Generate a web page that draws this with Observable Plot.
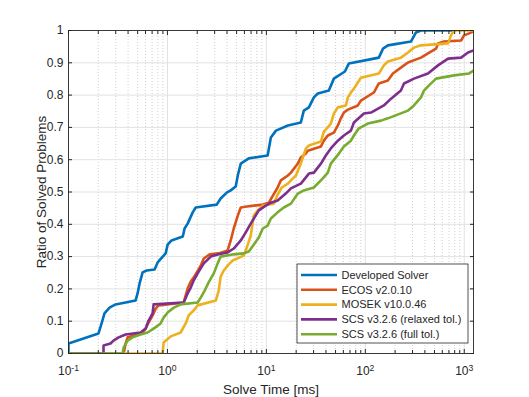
<!DOCTYPE html>
<html><head><meta charset="utf-8">
<script src="https://cdn.jsdelivr.net/npm/d3@7"></script>
<script src="https://cdn.jsdelivr.net/npm/@observablehq/plot@0.6"></script>
<style>body{margin:0;background:#fff;}</style>
</head><body><div id="chart"></div>
<script>
const seriesNames = ["Developed Solver","ECOS v2.0.10","MOSEK v10.0.46","SCS v3.2.6 (relaxed tol.)","SCS v3.2.6 (full tol.)"];
const seriesColors = ["#0072BD","#D95319","#EDB120","#7E2F8E","#77AC30"];
// [solve time in ms, ratio of solved problems]
const developed = [[0.1,0],[0.1,0.031],[0.201,0.062],[0.216,0.093],[0.231,0.124],[0.26,0.142],[0.299,0.152],[0.476,0.164],[0.499,0.186],[0.523,0.217],[0.561,0.251],[0.616,0.257],[0.742,0.26],[0.796,0.282],[0.959,0.31],[1.005,0.337],[1.1,0.35],[1.43,0.362],[1.49,0.387],[1.6,0.402],[1.8,0.437],[1.93,0.452],[3.15,0.461],[3.45,0.48],[3.97,0.498],[4.36,0.505],[4.9,0.517],[5.14,0.551],[5.51,0.588],[6.64,0.604],[10.3,0.613],[11.1,0.669],[12.5,0.69],[16.5,0.706],[22.3,0.715],[23.9,0.752],[26.9,0.762],[30.2,0.793],[33.1,0.805],[42.8,0.814],[48.1,0.851],[62.2,0.873],[68.2,0.898],[122,0.913],[137,0.916],[151,0.944],[169,0.954],[290,0.966],[325,0.994],[365,1],[789,1]];
const ecos = [[0.1,0],[0.361,0],[0.378,0.031],[0.396,0.05],[0.548,0.062],[0.602,0.077],[0.645,0.096],[0.708,0.118],[0.76,0.139],[0.815,0.149],[1.46,0.158],[1.53,0.18],[1.6,0.201],[1.72,0.223],[1.84,0.235],[1.98,0.251],[2.17,0.272],[2.33,0.294],[2.67,0.307],[3.3,0.31],[4.06,0.319],[4.36,0.35],[4.68,0.387],[5.14,0.427],[5.51,0.452],[6.34,0.455],[9.2,0.461],[10.6,0.467],[13,0.514],[14,0.536],[16.5,0.551],[17.7,0.56],[20.8,0.588],[22.3,0.607],[25.1,0.619],[26.2,0.628],[35.6,0.641],[38.1,0.659],[41.8,0.675],[48.1,0.684],[52.8,0.706],[56.6,0.728],[60.7,0.746],[66.7,0.755],[84.1,0.768],[90.2,0.783],[122,0.808],[137,0.836],[169,0.845],[190,0.867],[246,0.892],[270,0.901],[365,0.916],[430,0.929],[519,0.944],[543,0.96],[625,0.966],[929,0.969],[995,0.985],[1119,0.991],[1240,0.997]];
const mosek = [[0.1,0],[0.893,0],[0.915,0.034],[1.08,0.053],[1.36,0.065],[1.53,0.093],[1.64,0.118],[1.84,0.133],[2.02,0.149],[3.08,0.164],[3.3,0.195],[3.45,0.238],[3.71,0.257],[4.16,0.276],[4.57,0.288],[5.9,0.303],[6.34,0.328],[6.95,0.365],[7.45,0.427],[8.18,0.443],[9.2,0.458],[11.9,0.464],[13,0.492],[14.3,0.514],[16.5,0.526],[17.7,0.536],[19.9,0.551],[22.3,0.588],[25.1,0.635],[26.9,0.644],[35.6,0.656],[38.1,0.687],[41.8,0.7],[44.8,0.712],[48.1,0.743],[52.8,0.762],[63.6,0.768],[66.7,0.793],[71.5,0.808],[76.7,0.82],[84.1,0.839],[90.2,0.854],[137,0.867],[154,0.892],[169,0.904],[229,0.916],[270,0.932],[310,0.947],[365,0.954],[686,0.96],[735,0.985],[789,1],[1240,1]];
const scsRelaxed = [[0.1,0],[0.226,0],[0.226,0.025],[0.266,0.031],[0.285,0.04],[0.321,0.05],[0.378,0.059],[0.535,0.065],[0.602,0.077],[0.645,0.102],[0.708,0.124],[0.725,0.152],[1.46,0.158],[1.6,0.186],[1.72,0.204],[1.84,0.226],[2.02,0.248],[2.33,0.279],[2.74,0.3],[3.3,0.307],[4.06,0.313],[4.68,0.325],[5.51,0.35],[6.19,0.375],[6.95,0.402],[8.38,0.443],[9.86,0.458],[11.1,0.467],[13,0.474],[15.7,0.495],[17.7,0.511],[22.3,0.526],[26.9,0.557],[30.2,0.56],[35.6,0.588],[39.9,0.613],[44.8,0.635],[52.8,0.659],[60.7,0.675],[71.5,0.69],[76.7,0.715],[96.8,0.743],[114,0.746],[154,0.768],[182,0.789],[229,0.814],[246,0.836],[310,0.851],[430,0.867],[543,0.892],[686,0.913],[929,0.916],[1092,0.932],[1240,0.938]];
const scsFull = [[0.1,0],[0.352,0],[0.361,0.019],[0.396,0.04],[0.444,0.05],[0.535,0.059],[0.631,0.065],[0.725,0.077],[0.853,0.093],[0.915,0.111],[1.005,0.127],[1.16,0.142],[1.36,0.152],[2.02,0.158],[2.17,0.173],[2.38,0.195],[2.61,0.22],[2.94,0.248],[3.22,0.279],[3.45,0.3],[4.68,0.307],[5.9,0.31],[6.64,0.316],[7.45,0.337],[8.38,0.359],[9.2,0.387],[10.3,0.396],[11.1,0.418],[13,0.437],[15,0.452],[17.7,0.464],[20.8,0.495],[23.9,0.505],[30.2,0.514],[37.2,0.542],[41.8,0.56],[44.8,0.588],[54.1,0.619],[60.7,0.641],[71.5,0.659],[76.7,0.675],[86.1,0.697],[106,0.712],[144,0.721],[169,0.728],[270,0.752],[310,0.768],[365,0.793],[392,0.814],[440,0.83],[519,0.851],[789,0.861],[1119,0.867],[1240,0.876]];
const xDomain = [0.1, 1240];
const xTicks = [0.1, 1, 10, 100, 1000];
const xTickLabels = ["10^-1","10^0","10^1","10^2","10^3"];
const yTicks = [0,0.1,0.2,0.3,0.4,0.5,0.6,0.7,0.8,0.9,1];
const yTickLabels = ["0","0.1","0.2","0.3","0.4","0.5","0.6","0.7","0.8","0.9","1"];
const xLabel = "Solve Time [ms]";
const yLabel = "Ratio of Solved Problems";

const seriesData = [developed, ecos, mosek, scsRelaxed, scsFull];
const rows = seriesNames.flatMap((name, i) => seriesData[i].map(([t, r]) => ({series: name, t, r})));
const minorX = xTicks.flatMap(d => [2,3,4,5,6,7,8,9].map(m => d * m)).filter(v => v < xDomain[1]);
const ink = "#262626";
const font = "'Liberation Sans', Arial, Helvetica, sans-serif";

const plot = Plot.plot({
  width: 529, height: 397,
  marginLeft: 68, marginRight: 56, marginTop: 30, marginBottom: 44,
  style: {fontFamily: font, fontSize: "12px", color: ink, background: "#fff", overflow: "visible"},
  x: {type: "log", domain: xDomain, label: null},
  y: {domain: [0, 1], label: null},
  color: {domain: seriesNames, range: seriesColors},
  marks: [
    Plot.ruleX(minorX, {stroke: "#c4c4c4", strokeDasharray: "1,2", strokeWidth: 0.8}),
    Plot.ruleX(xTicks, {stroke: "#e2e2e2"}),
    Plot.ruleY(yTicks, {stroke: "#e2e2e2"}),
    Plot.line(rows, {x: "t", y: "r", z: "series", stroke: "series", strokeWidth: 2.6, strokeLinejoin: "round", clip: true}),
    Plot.axisX({ticks: xTicks, anchor: "bottom", tickSize: -4, tickFormat: () => "", stroke: ink}),
    Plot.axisX({ticks: minorX, anchor: "bottom", tickSize: -3, tickFormat: () => "", stroke: ink}),
    Plot.axisX({ticks: xTicks, anchor: "top", tickSize: -4, tickFormat: () => "", stroke: ink}),
    Plot.axisX({ticks: minorX, anchor: "top", tickSize: -3, tickFormat: () => "", stroke: ink}),
    Plot.axisY({ticks: yTicks, anchor: "left", tickSize: -4, tickFormat: () => "", stroke: ink}),
    Plot.axisY({ticks: yTicks, anchor: "right", tickSize: -4, tickFormat: () => "", stroke: ink}),
    Plot.axisX({ticks: xTicks, anchor: "bottom", tickSize: 0, tickPadding: 13, fontSize: 12, fill: ink,
      tickFormat: d => xTickLabels[xTicks.indexOf(d)]}),
    Plot.axisY({ticks: yTicks, anchor: "left", tickSize: 0, tickPadding: 5, fontSize: 12, fill: ink,
      tickFormat: d => yTickLabels[yTicks.indexOf(d)]}),
    Plot.frame({stroke: ink, strokeWidth: 0.9}),
    Plot.text([xLabel], {frameAnchor: "bottom", dy: 40, fontSize: 13.5, fill: ink, textAnchor: "middle", text: d => d}),
    Plot.text([yLabel], {frameAnchor: "left", dx: -27, rotate: -90, fontSize: 13.5, fill: ink, textAnchor: "middle", text: d => d})
  ]
});

const svg = d3.select(plot);
svg.selectAll('g[aria-label="x-axis tick label"] text').each(function() {
  const s = this.textContent;
  if (s.includes("^")) {
    const [b, e] = s.split("^");
    const t = d3.select(this);
    t.text(null);
    t.append("tspan").text(b);
    t.append("tspan").attr("dy", "-0.5em").attr("font-size", "0.72em").text(e);
  }
});

// legend
const lg = svg.append("g").attr("font-family", font).attr("font-size", 11).attr("text-anchor", "start");
lg.append("rect").attr("x", 297).attr("y", 264).attr("width", 171).attr("height", 79)
  .attr("fill", "#fff").attr("stroke", ink).attr("stroke-width", 0.8);
seriesNames.forEach((n, i) => {
  const y = 275 + i * 14.8;
  lg.append("line").attr("x1", 301).attr("x2", 337).attr("y1", y).attr("y2", y)
    .attr("stroke", seriesColors[i]).attr("stroke-width", 2.6);
  lg.append("text").attr("x", 341.5).attr("y", y).attr("dy", "0.35em").attr("text-anchor", "start").attr("fill", ink).text(n);
});

document.getElementById("chart").appendChild(plot);
</script>
</body></html>
